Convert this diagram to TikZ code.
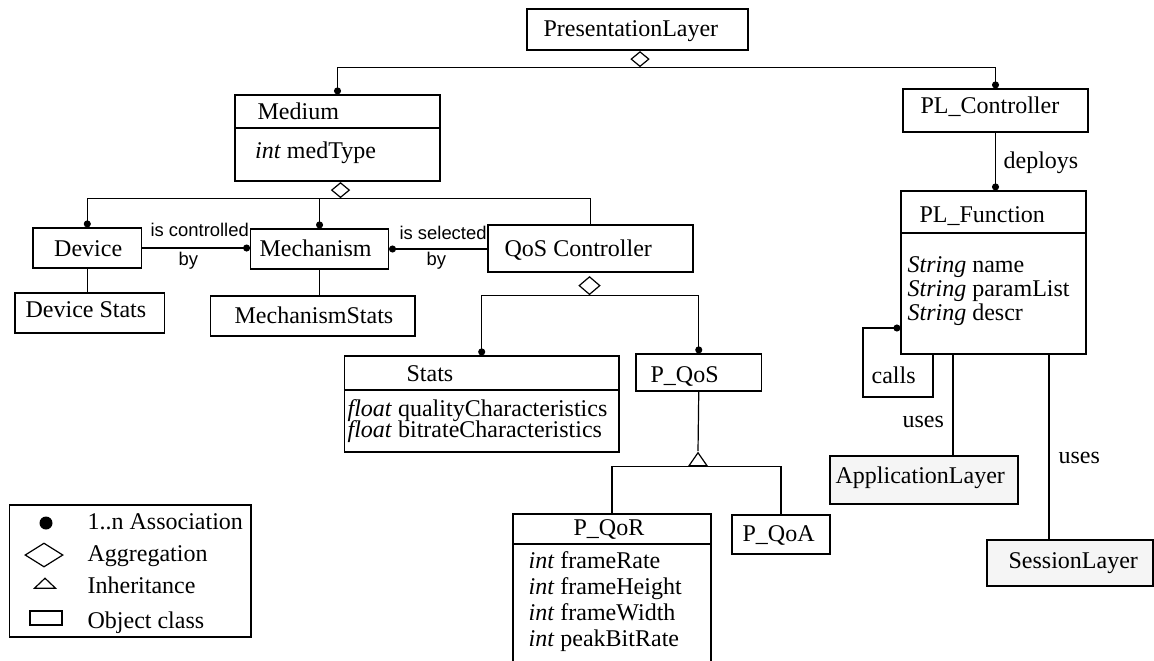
\documentclass[tikz,border=0pt]{standalone}
\usepackage{fontspec}
\setmainfont{Liberation Serif}
\setsansfont{Liberation Sans}
\usetikzlibrary{fit,shapes.geometric,arrows.meta}

\tikzset{
  cls/.style={draw, inner sep=0pt, fit={#1}},
  layer/.style={cls={#1}, fill=black!4},
  txt/.style={anchor=base west, inner sep=0pt, font=\fontsize{12}{14}\selectfont},
  rel/.style={anchor=base west, inner sep=0pt, font=\sffamily\fontsize{9.2}{11}\selectfont},
  assoc/.style={-{Circle[length=3.5pt]}},
  aggr/.style={diamond, draw, fill=white, inner sep=0pt, minimum width=9pt, minimum height=7.5pt, anchor=north},
  inh/.style={isosceles triangle, isosceles triangle stretches, shape border rotate=90, draw, fill=white, inner sep=0pt, minimum width=9pt, minimum height=6.5pt},
}

\begin{document}
\begin{tikzpicture}[x=0.5pt,y=-0.5pt,line width=0.6pt]
\useasboundingbox (0,0) rectangle (1154,660);
\clip (0,0) rectangle (1154,660);

% classes
\node[cls={(527,9) (748,50)}] (pl) {};
\node[txt] (plT) at (543,36) {PresentationLayer};

\node[cls={(235,95) (440,181)}] (medium) {};
\draw (medium.west |- 0,128) -- (medium.east |- 0,128);
\node[txt] (mediumT) at (257,119) {Medium};
\node[txt] (mediumA) at (254.5,158) {\textit{int} medType};

\node[cls={(33,228) (141.6,268)}] (device) {};
\node[txt] (deviceT) at (53.6,256) {Device};
\node[cls={(250.7,229) (388.4,269)}] (mech) {};
\node[txt] (mechT) at (259,256) {Mechanism};
\node[cls={(488,225) (693,272)}] (qosc) {};
\node[txt] (qoscT) at (504,256) {QoS Controller};

\node[cls={(15,293) (164.6,333)}] (dstats) {};
\node[txt] (dstatsT) at (25,317) {Device Stats};
\node[cls={(210.5,296) (415,336)}] (mstats) {};
\node[txt] (mstatsT) at (234,323) {MechanismStats};

\node[cls={(344.4,356) (619,452)}] (stats) {};
\draw (stats.west |- 0,390) -- (stats.east |- 0,390);
\node[txt] (statsT) at (406,381) {Stats};
\node[txt] (statsA1) at (347,416) {\textit{float} qualityCharacteristics};
\node[txt] (statsA2) at (347,437) {\textit{float} bitrateCharacteristics};

\node[cls={(636,354) (761.5,391)}] (pqos) {};
\node[txt] (pqosT) at (650,382) {P\_QoS};
\node[cls={(513,514) (711,700)}] (pqor) {};
\draw (pqor.west |- 0,544) -- (pqor.east |- 0,544);
\node[txt] (pqorT) at (573,535) {P\_QoR};
\foreach \t [count=\i] in {frameRate,frameHeight,frameWidth,peakBitRate}
  \node[txt] (pqorA\i) at (528,{568+26*(\i-1)}) {\textit{int} \t};
\node[cls={(732,515) (830,554)}] (pqoa) {};
\node[txt] (pqoaT) at (742,541) {P\_QoA};

\node[cls={(903,89) (1088,132)}] (plc) {};
\node[txt] (plcT) at (920,113) {PL\_Controller};
\node[cls={(901,191) (1086,354)}] (plf) {};
\draw (plf.west |- 0,233) -- (plf.east |- 0,233);
\node[txt] (plfT) at (919,222) {PL\_Function};
\foreach \t [count=\i] in {name,paramList,descr}
  \node[txt] (plfA\i) at (907,{272+24*(\i-1)}) {\textit{String} \t};

\node[layer={(830,456) (1018,504)}] (appl) {};
\node[txt] (applT) at (835,483) {ApplicationLayer};
\node[layer={(987,540) (1153,586)}] (sess) {};
\node[txt] (sessT) at (1008,568) {SessionLayer};

% aggregation
\node[aggr] (pldiam) at (640,51) {};
\draw[assoc] (pldiam.south) -| (medium.north);
\draw[assoc] (pldiam.south) -| (plc.north);

\node[aggr] (meddiam) at (340.5,182) {};
\draw[assoc] (meddiam.south) -| (device.north);
\draw[assoc] (meddiam.south) -| (mech.north);
\draw (meddiam.south) -| (qosc.north);

\node[aggr, minimum width=10.5pt, minimum height=9pt] (qosdiam) at (589.5,276) {};
\draw[assoc] (qosdiam.south) -| (stats.north);
\draw[assoc] (qosdiam.south) -| (pqos.north);

% associations
\draw[assoc] (device.east) -- (device.east -| mech.west);
\node[rel] (ctrlA) at (150,236) {is controlled};
\node[rel] (ctrlB) at (178,265) {by};
\draw[assoc] (mech.east -| qosc.west) -- (mech.east);
\node[rel] (selA) at (399,239) {is selected};
\node[rel] (selB) at (426,265) {by};

\draw (device.south) -- (device.south |- dstats.north);
\draw (mech.south) -- (mech.south |- mstats.north);

\draw[assoc] (plc.south) -- (plc.south |- plf.north);
\node[txt] (deploysT) at (1003,168) {deploys};

\coordinate (callsA) at (933,397);
\coordinate (callsB) at (863,328);
\draw[assoc] (callsA |- plf.south) -- (callsA) -| (callsB) -- (callsB -| plf.west);
\node[txt] (callsT) at (871,383) {calls};

\draw (plf.south -| 953,0) -- (appl.north -| 953,0);
\node[txt] (usesA) at (902,427) {uses};
\draw (plf.south -| 1049,0) -- (sess.north -| 1049,0);
\node[txt] (usesB) at (1058,463) {uses};

% inheritance
\node[inh] (qosinh) at (698,461) {};
\draw (pqos.south) -- (qosinh.apex);
\draw (qosinh.lower side) -| (pqor.north);
\draw (qosinh.lower side) -| (pqoa.north);

% legend
\node[cls={(9.6,505) (251,637)}] (legend) {};
\node[circle, fill, inner sep=0pt, minimum size=6.5pt] (legdot) at (46,523) {};
\node[aggr, anchor=center, minimum width=19pt, minimum height=12pt] (legdiam) at (44,555) {};
\node[inh, minimum width=10.5pt, minimum height=5pt] (leginh) at (45,584) {};
\node[cls={(30,611) (62,625)}] (legcls) {};
\node[txt] (legA) at (87,529) {1..n Association};
\node[txt] (legB) at (87,561) {Aggregation};
\node[txt] (legC) at (87,593) {Inheritance};
\node[txt] (legD) at (87,628) {Object class};
\end{tikzpicture}
\end{document}
